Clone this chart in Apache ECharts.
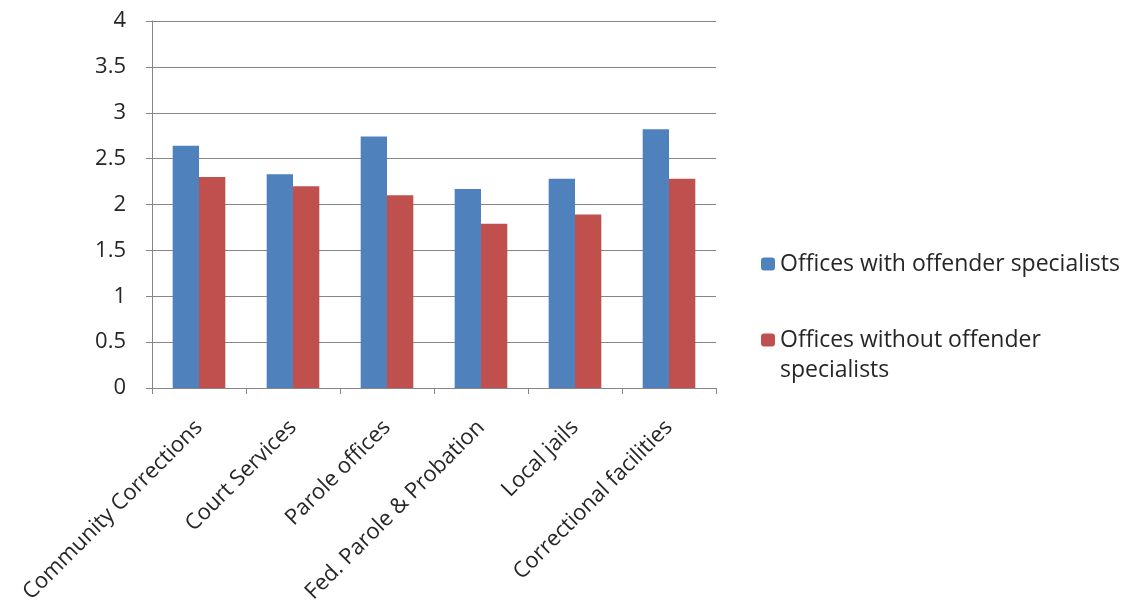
<!DOCTYPE html>
<html><head><meta charset="utf-8">
<script src="https://cdn.jsdelivr.net/npm/echarts@6/dist/echarts.min.js"></script>
<style>html,body{margin:0;padding:0;background:#fff}#c{width:1126px;height:602px}</style>
</head><body><div id="c"></div>
<script>
const categories = ['Community Corrections','Court Services','Parole offices','Fed. Parole & Probation','Local jails','Correctional facilities'];
const withSpecialists = [2.64, 2.33, 2.74, 2.17, 2.28, 2.82];
const withoutSpecialists = [2.30, 2.20, 2.10, 1.79, 1.89, 2.28];
const seriesNames = ['Offices with offender specialists','Offices without offender specialists'];
const legendLabels = ['Offices with offender specialists','Offices without offender\nspecialists'];
const yTicks = {min:0, max:4, interval:0.5};

const FONT = 'Open Sans';
const TXT = '#262626';
const chart = echarts.init(document.getElementById('c'));
chart.setOption({
  animation:false,
  grid:{left:152, right:410, top:21, bottom:214, containLabel:false, outerBoundsMode:'none'},
  legend:[
    {data:[seriesNames[0]], orient:'vertical', left:756, top:244, itemWidth:14, itemHeight:13, itemGap:0,
     formatter:function(){return legendLabels[0];},
     textStyle:{fontFamily:FONT, fontSize:23, color:TXT, lineHeight:30}},
    {data:[seriesNames[1]], orient:'vertical', left:756, top:290, itemWidth:14, itemHeight:13, itemGap:0,
     formatter:function(){return ' \n' + legendLabels[1];},
     textStyle:{fontFamily:FONT, fontSize:23, color:TXT, lineHeight:30}}
  ],
  xAxis:{type:'category', data:categories,
    axisLine:{lineStyle:{color:'#868686'}},
    axisTick:{show:true, length:6, lineStyle:{color:'#868686'}},
    axisLabel:{rotate:45, margin:36, fontFamily:FONT, fontSize:22, color:TXT, interval:0}
  },
  yAxis:{type:'value', min:yTicks.min, max:yTicks.max, interval:yTicks.interval,
    axisLine:{show:true, lineStyle:{color:'#868686'}},
    axisTick:{show:true, length:6, lineStyle:{color:'#868686'}},
    splitLine:{lineStyle:{color:'#868686'}},
    axisLabel:{margin:26, fontFamily:FONT, fontSize:22, color:TXT}
  },
  series:[
    {name:seriesNames[0], type:'bar', data:withSpecialists, barWidth:'28%', barGap:'0%', itemStyle:{color:'#4F81BD'}},
    {name:seriesNames[1], type:'bar', data:withoutSpecialists, barWidth:'28%', barGap:'0%', itemStyle:{color:'#C0504D'}}
  ]
});
</script></body></html>
